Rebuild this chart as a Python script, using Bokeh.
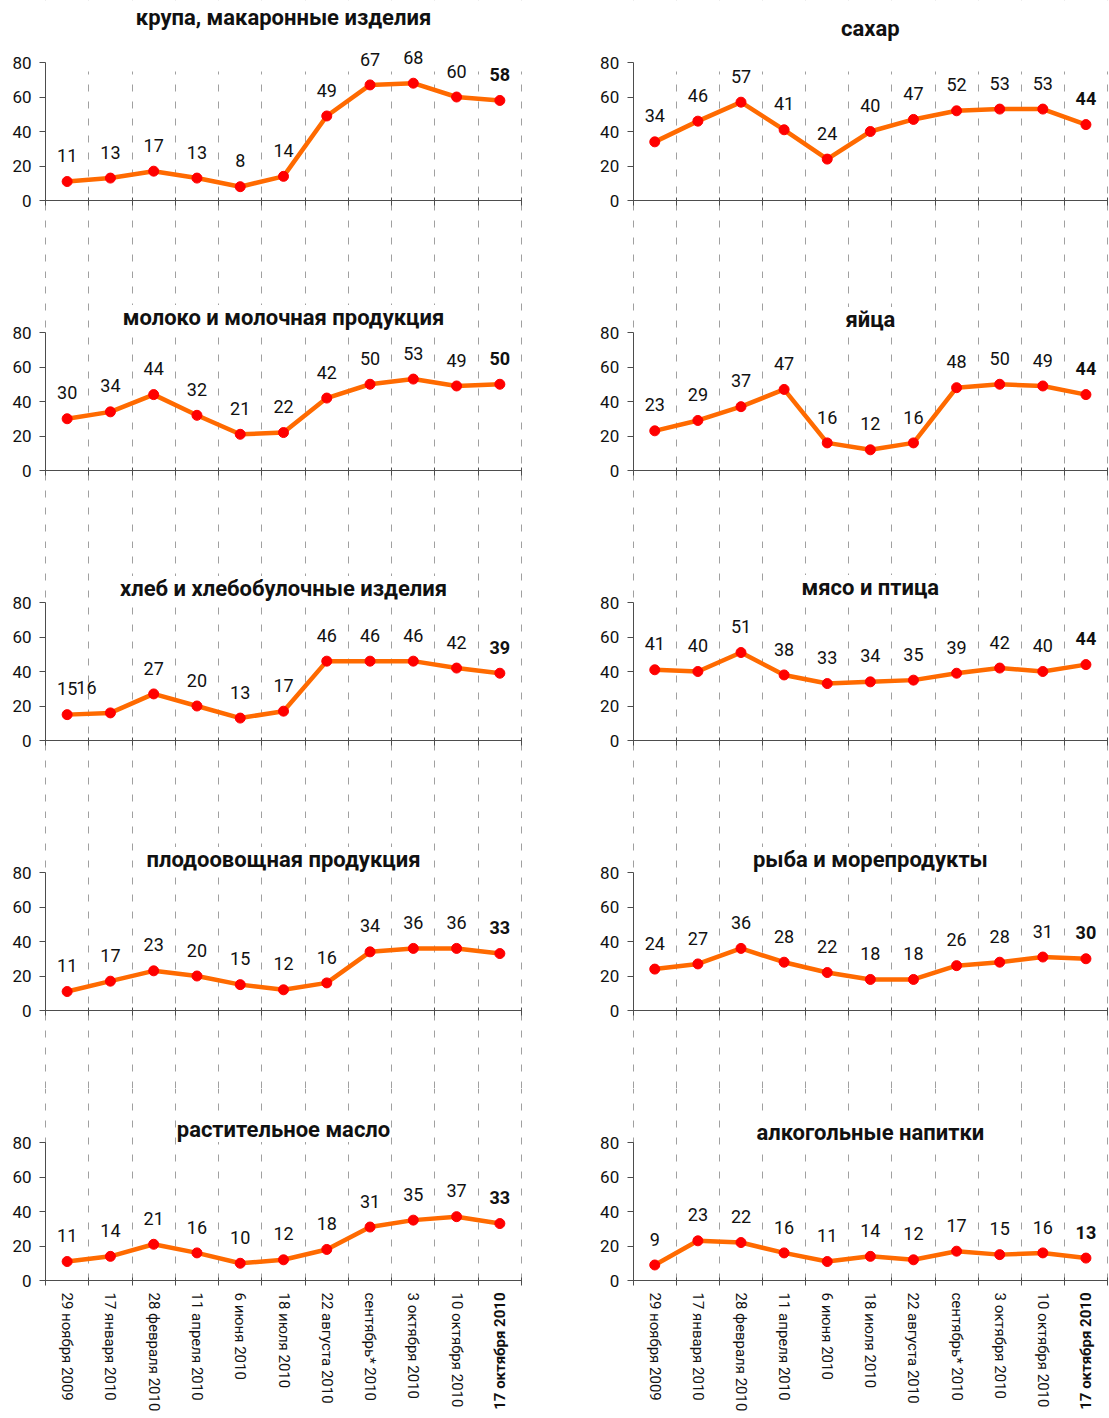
import math
from bokeh.plotting import figure
from bokeh.layouts import gridplot
from bokeh.models import (FixedTicker, LinearAxis, Range1d, Label, BoxAnnotation,
                          ColumnDataSource, CustomJSTickFormatter)
from bokeh.core.properties import value, field
from bokeh.embed import file_html
from bokeh.resources import INLINE

# ---------------- data ----------------
dates = ["29 ноября 2009", "17 января 2010", "28 февраля 2010", "11 апреля 2010",
         "6 июня 2010", "18 июля 2010", "22 августа 2010", "сентябрь* 2010",
         "3 октября 2010", "10 октября 2010", "17 октября 2010"]

krupa = [11, 13, 17, 13, 8, 14, 49, 67, 68, 60, 58]
sahar = [34, 46, 57, 41, 24, 40, 47, 52, 53, 53, 44]
moloko = [30, 34, 44, 32, 21, 22, 42, 50, 53, 49, 50]
yaica = [23, 29, 37, 47, 16, 12, 16, 48, 50, 49, 44]
hleb = [15, 16, 27, 20, 13, 17, 46, 46, 46, 42, 39]
myaso = [41, 40, 51, 38, 33, 34, 35, 39, 42, 40, 44]
plodoovosh = [11, 17, 23, 20, 15, 12, 16, 34, 36, 36, 33]
ryba = [24, 27, 36, 28, 22, 18, 18, 26, 28, 31, 30]
maslo = [11, 14, 21, 16, 10, 12, 18, 31, 35, 37, 33]
alko = [9, 23, 22, 16, 11, 14, 12, 17, 15, 16, 13]

titles_left = ["крупа, макаронные изделия", "молоко и молочная продукция",
               "хлеб и хлебобулочные изделия", "плодоовощная продукция",
               "растительное масло"]
titles_right = ["сахар", "яйца", "мясо и птица", "рыба и морепродукты",
                "алкогольные напитки"]
series_left = [krupa, moloko, hleb, plodoovosh, maslo]
series_right = [sahar, yaica, myaso, ryba, alko]
y_ticks = [0, 20, 40, 60, 80]

# ---------------- layout / style ----------------
PXU = 1.725                      # px per value unit
ROW_H = [278, 270, 270, 270, 328]
TOP80 = [62, 54, 54, 54, 54]     # px from figure top to the 80 line
COL_W = [568, 540]
AXIS_X = [45.0, 64.7]
LAST_X = [521.0, 539.0]
TITLE_OFF = [[45, 15, 14, 13, 13], [34, 13, 15, 13, 10]]

FONT = "Roboto"
LINE_COL = "#FF6A00"
DOT_COL = "#FF0000"
AX_COL = "#4D4D4D"
GRID_COL = "#A0A0A0"
TXT_COL = "#111111"

n = len(dates)
xs = list(range(1, n + 1))
bounds = [i + 0.5 for i in range(n + 1)]


def make_panel(col, row, title, vals):
    W = COL_W[col]
    H = ROW_H[row]
    unit = (LAST_X[col] - AXIS_X[col]) / n
    x0 = 0.5 - AXIS_X[col] / unit
    x1 = 0.5 + (W - AXIS_X[col]) / unit
    zero = TOP80[row] + 80 * PXU
    y1 = 80 + TOP80[row] / PXU
    y0 = -(H - zero) / PXU
    p = figure(width=W, height=H, x_range=Range1d(x0, x1), y_range=Range1d(y0, y1),
               output_backend="svg", toolbar_location=None, tools="", title=None,
               min_border=0)
    p.outline_line_color = None
    p.background_fill_color = "white"
    p.border_fill_color = "white"

    # grid (vertical dashed lines at category boundaries)
    p.ygrid.visible = False
    g = p.xgrid[0]
    g.ticker = FixedTicker(ticks=bounds)
    g.bounds = (0, n + 1)
    g.grid_line_color = GRID_COL
    g.grid_line_width = 1
    g.grid_line_dash = "7 10"

    if row == 0:
        p.add_layout(BoxAnnotation(bottom=80 - 9 / PXU, fill_color="white", fill_alpha=1,
                                   line_color=None, level="underlay"))
    if row == len(ROW_H) - 1:
        p.add_layout(BoxAnnotation(top=0, fill_color="white", fill_alpha=1,
                                   line_color=None, level="underlay"))

    # y axis
    ya = p.yaxis[0]
    ya.fixed_location = 0.5
    ya.ticker = FixedTicker(ticks=y_ticks)
    ya.bounds = (0, 80)
    ya.axis_line_color = AX_COL
    ya.major_tick_line_color = AX_COL
    ya.major_tick_out = 6
    ya.major_tick_in = 0
    ya.minor_tick_out = 0
    ya.minor_tick_in = 0
    ya.major_label_standoff = 8
    ya.major_label_text_font = FONT
    ya.major_label_text_font_size = "17px"
    ya.major_label_text_color = TXT_COL

    # x axis with ticks at boundaries
    xa = p.xaxis[0]
    xa.fixed_location = 0
    xa.ticker = FixedTicker(ticks=bounds)
    xa.bounds = (0.5, n + 0.5)
    xa.formatter = CustomJSTickFormatter(code="return ''")
    xa.axis_line_color = AX_COL
    xa.major_tick_line_color = AX_COL
    xa.major_tick_out = 5
    xa.major_tick_in = 3
    xa.minor_tick_out = 0
    xa.minor_tick_in = 0

    if row == len(ROW_H) - 1:
        la = LinearAxis(fixed_location=0, ticker=FixedTicker(ticks=xs))
        la.major_label_overrides = {i + 1: (d if i < n - 1 else "") for i, d in enumerate(dates)}
        la.major_tick_out = 0
        la.major_tick_in = 0
        la.minor_tick_out = 0
        la.minor_tick_in = 0
        la.axis_line_color = None
        la.major_label_orientation = "vertical"
        la.major_label_standoff = 12
        la.major_label_text_font = FONT
        la.major_label_text_font_size = "15px"
        la.major_label_text_color = TXT_COL
        p.add_layout(la, "below")
        p.text(x=[xs[-1]], y=[-12 / PXU], text=[dates[-1]], angle=math.pi / 2,
               text_align="right", text_baseline="middle", text_font=value(FONT),
               text_font_size="15px", text_font_style="bold", text_color=TXT_COL)

    # data
    xo = [0] * n
    if vals is hleb:
        xo[1] = -24
    src = ColumnDataSource(dict(
        x=xs, y=vals, ly=[v + 15 for v in vals], txt=[str(v) for v in vals],
        fs=["normal"] * (n - 1) + ["bold"], xo=xo))
    p.line("x", "y", source=src, line_color=LINE_COL, line_width=4.5, line_join="round")
    p.scatter("x", "y", source=src, size=10, fill_color=DOT_COL, line_color=DOT_COL)
    p.text("x", "ly", text="txt", source=src, text_align="center", text_baseline="middle",
           text_font=value(FONT), text_font_size="18px", text_font_style=field("fs"),
           x_offset=field("xo"), text_color=TXT_COL)

    # title
    p.add_layout(Label(x=(n + 1) / 2, y=80 + TITLE_OFF[col][row] / PXU, text=title,
                       text_align="center", text_baseline="middle", text_font=FONT,
                       text_font_size="22px", text_font_style="bold", text_color=TXT_COL,
                       background_fill_color="white", background_fill_alpha=1.0))
    return p


rows = []
for r in range(5):
    rows.append([make_panel(0, r, titles_left[r], series_left[r]),
                 make_panel(1, r, titles_right[r], series_right[r])])

grid = gridplot(rows, toolbar_location=None)
open("out.html", "w").write(file_html(grid, INLINE))
